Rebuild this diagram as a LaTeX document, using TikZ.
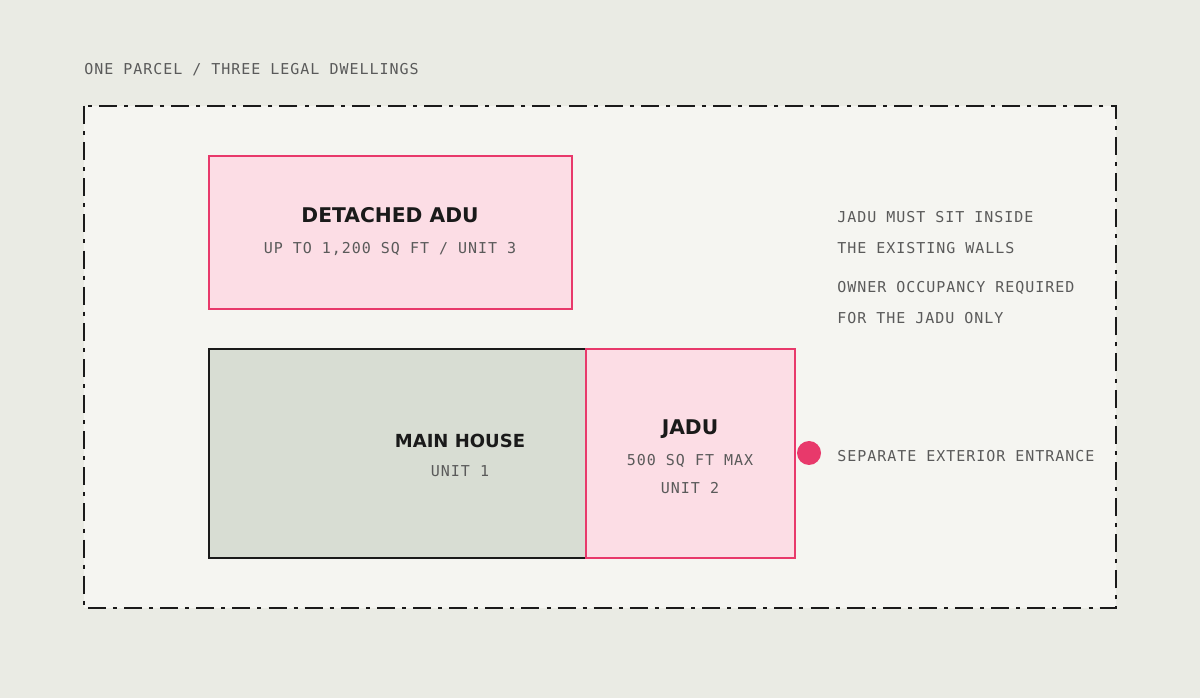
\documentclass[tikz,border=0pt]{standalone}
\usepackage{fontspec}
\setmainfont{DejaVu Sans}
\newfontfamily\labelmono[LetterSpace=6.5]{DejaVu Sans Mono}
\definecolor{paper}{HTML}{EAEBE4}
\definecolor{parcelbg}{HTML}{F5F5F1}
\definecolor{adupink}{HTML}{FCDDE5}
\definecolor{aduline}{HTML}{E8396B}
\definecolor{housefill}{HTML}{D8DDD3}
\definecolor{ink}{HTML}{1A1A1A}
\definecolor{note}{HTML}{5A5A5A}
\tikzset{
  unitbox/.style={fill=adupink,draw=aduline,line width=2.2pt},
  housebox/.style={fill=housefill,draw=ink,line width=1.5pt},
  heading/.style={font=\bfseries\fontsize{15.2}{18}\selectfont,text=ink,inner sep=0pt,anchor=base},
  small/.style={font=\labelmono\fontsize{11.25}{13}\selectfont,text=note,inner sep=0pt,anchor=base},
  remark/.style={small,anchor=base west}
}
\begin{document}
\begin{tikzpicture}[x=0.75pt,y=-0.75pt]
		\fill[paper] (0,0) rectangle (1200,698);
		\useasboundingbox (0,0) rectangle (1200,698);
		% parcel line
		\fill[parcelbg] (84,106) rectangle (1116,608);
		\draw[ink,line width=2.2pt,dash pattern=on 13.5pt off 5.3pt on 3pt off 5.3pt] (84,106) rectangle (1116,608);
		\node[remark] (title) at (84,74.5) {ONE PARCEL / THREE LEGAL DWELLINGS};
		% units
		\draw[unitbox] (209,156) rectangle (572,309);
		\draw[housebox] (209,349) rectangle (586,558);
		\draw[unitbox] (586,349) rectangle (795,558);
		\node[heading] (adu) at (390,223) {DETACHED ADU};
		\node[small] (adusize) at (390,253.5) {UP TO 1,200 SQ FT / UNIT 3};
		\node[heading,font=\bfseries\fontsize{13.5}{16}\selectfont] (house) at (460,447.5) {MAIN HOUSE};
		\node[small] (houseunit) at (460,476.5) {UNIT 1};
		\node[heading] (jadu) at (690,435) {JADU};
		\node[small] (jadusize) at (690,465.5) {500 SQ FT MAX};
		\node[small] (jaduunit) at (690,493.5) {UNIT 2};
		% notes
		\node[circle,fill=aduline,minimum size=18pt,inner sep=0pt] (door) at (809,453) {};
		\node[remark] (walls1) at (837,222.5) {JADU MUST SIT INSIDE};
		\node[remark] (walls2) at (837,253.5) {THE EXISTING WALLS};
		\node[remark] (owner1) at (837,292.5) {OWNER OCCUPANCY REQUIRED};
		\node[remark] (owner2) at (837,323.5) {FOR THE JADU ONLY};
		\node[remark] (entrance) at (837,461.5) {SEPARATE EXTERIOR ENTRANCE};
	\end{tikzpicture}
\end{document}
